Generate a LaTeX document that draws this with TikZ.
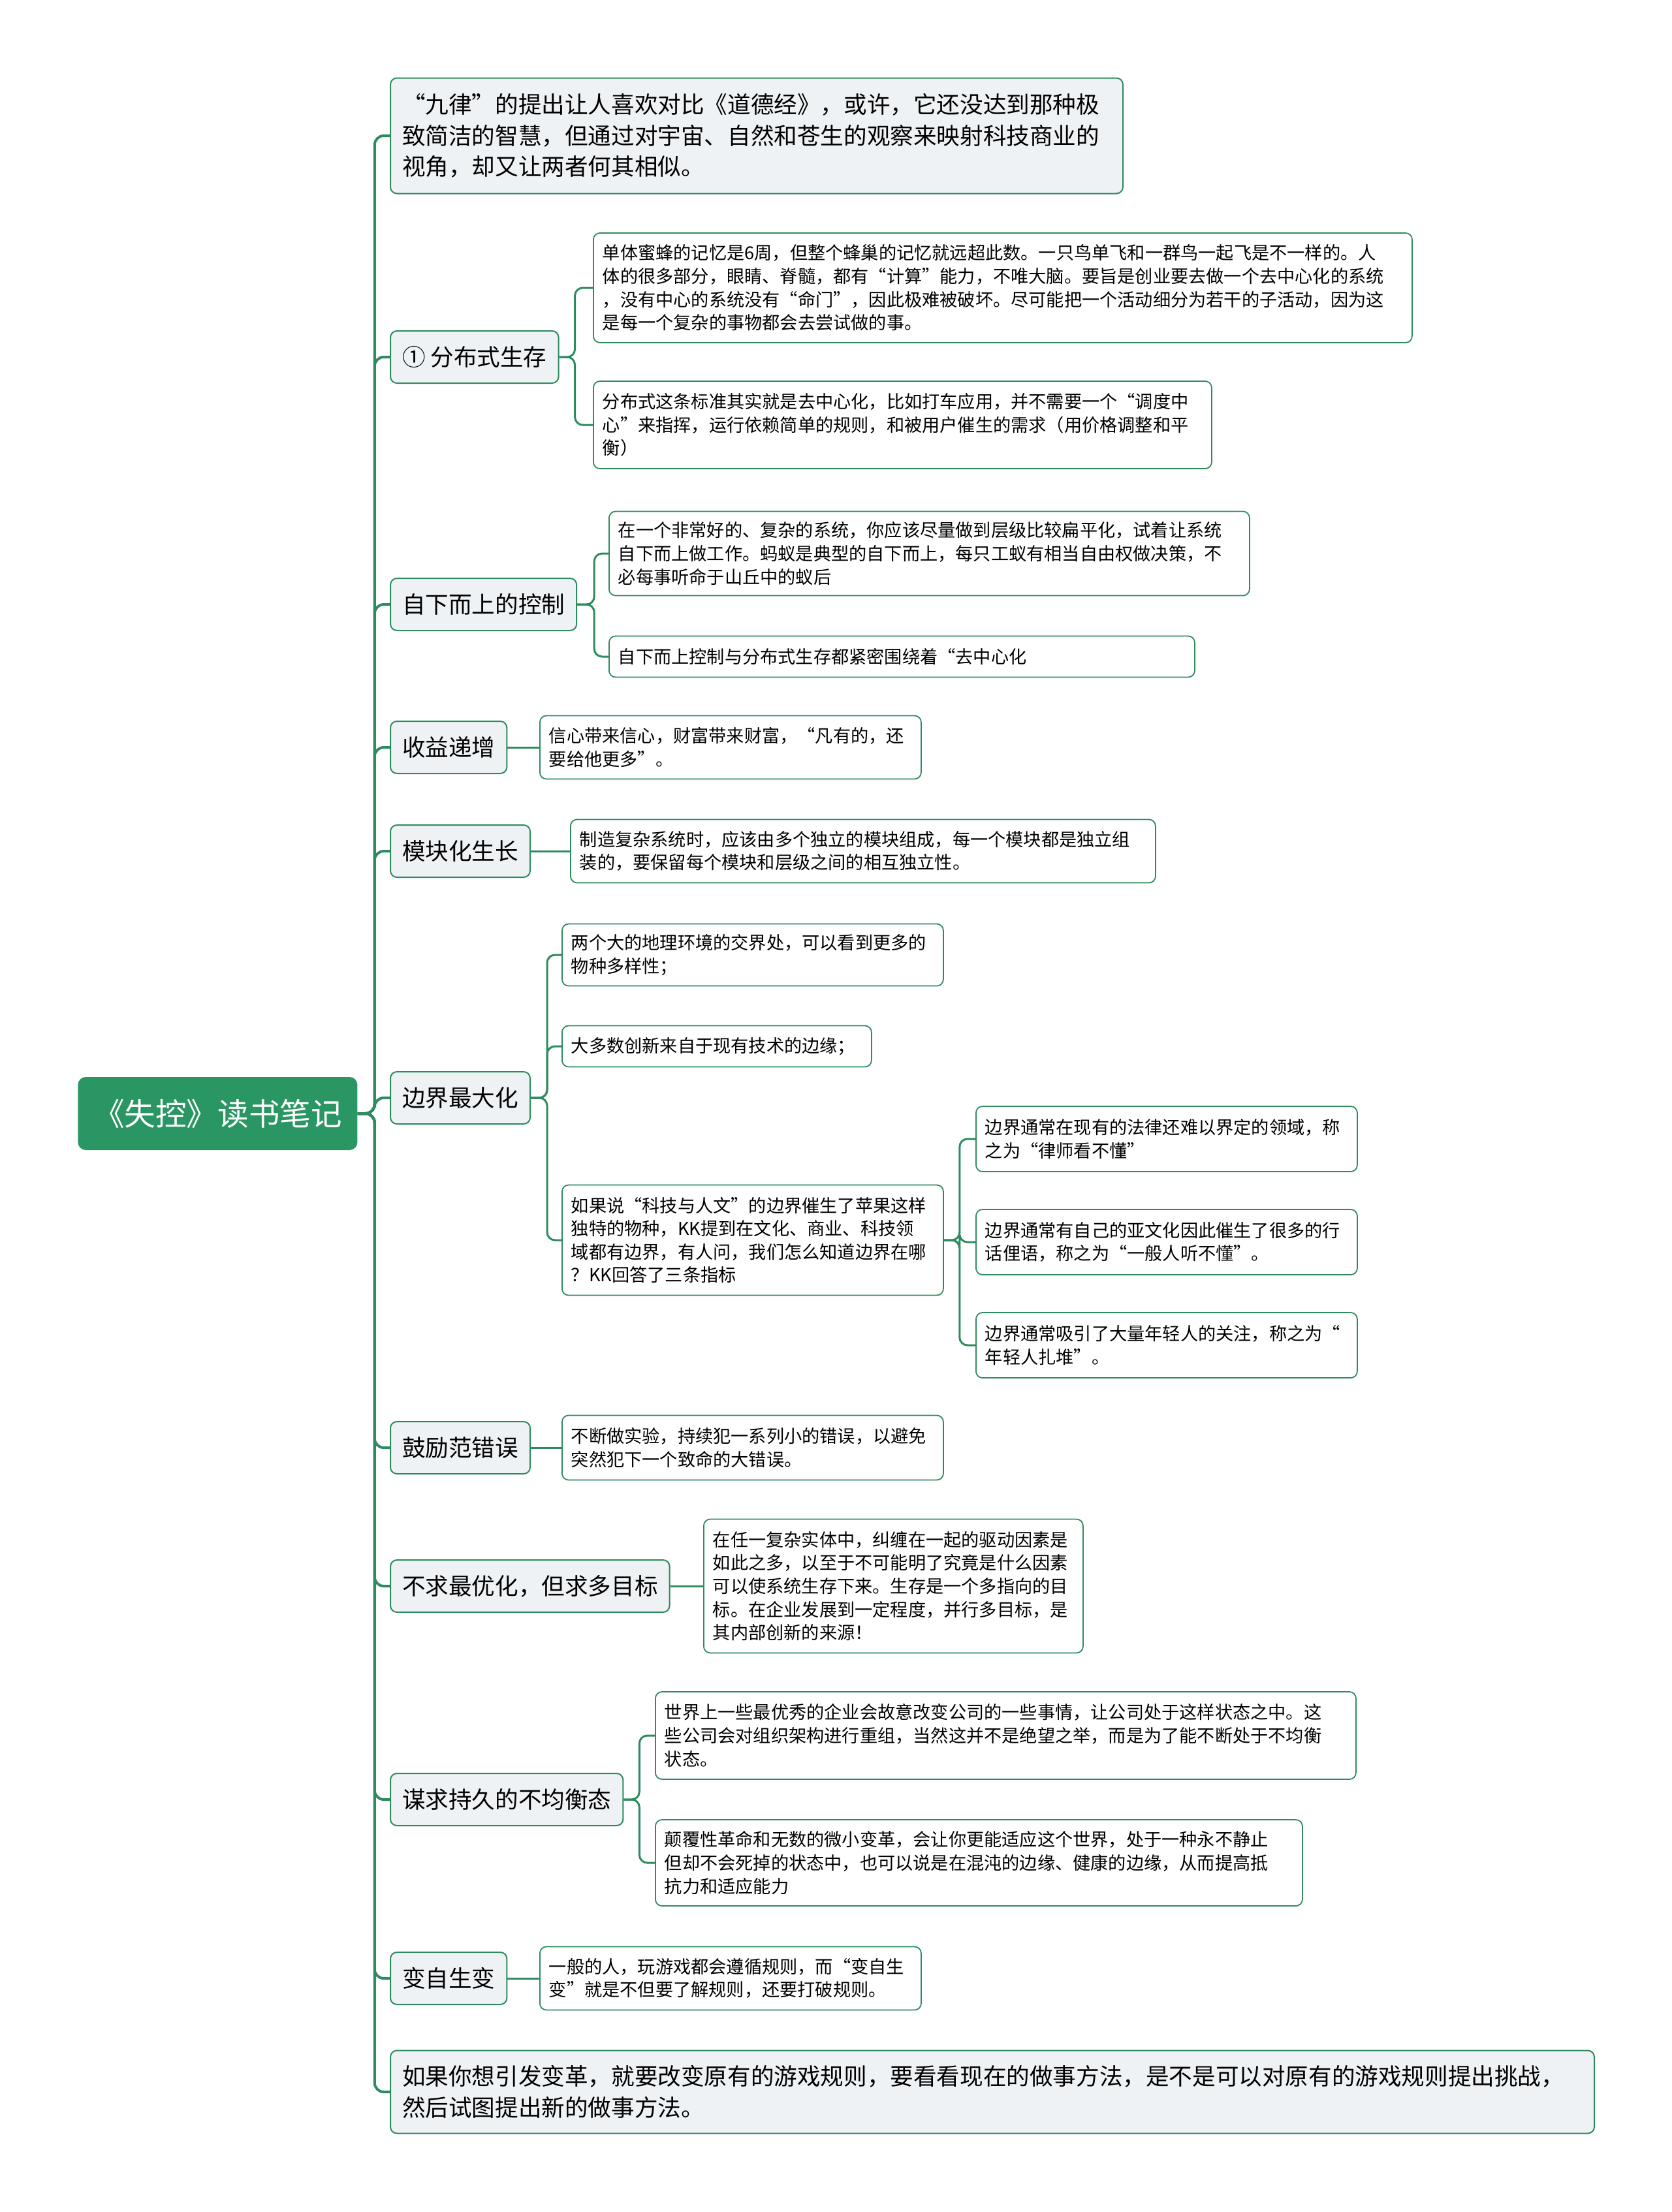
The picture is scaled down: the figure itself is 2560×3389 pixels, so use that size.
\documentclass[tikz,border=0pt]{standalone}
\usepackage{fontspec}
\setmainfont{Noto Sans CJK SC}
\usepackage{xcolor}
\usepackage{tikz}
\usetikzlibrary{positioning}

\definecolor{linegreen}{HTML}{2E8B5E}
\definecolor{rootgreen}{HTML}{2A9663}
\definecolor{topicgray}{HTML}{EEF2F5}

\begin{document}
\begin{tikzpicture}[x=0.5pt,y=-0.5pt,
	rootbox/.style={rectangle,rounded corners=6pt,fill=rootgreen,text=white,
		font=\fontsize{23.8}{28}\selectfont,minimum width=214pt,minimum height=56pt,anchor=west},
	topic/.style={rectangle,rounded corners=5pt,draw=linegreen,line width=1pt,fill=topicgray,
		font=\fontsize{17.8}{23.8}\selectfont,inner xsep=9pt,minimum height=40pt,anchor=west},
	topicnote/.style={topic,align=left},
	note/.style={rectangle,rounded corners=5pt,draw=linegreen,line width=0.9pt,fill=white,
		font=\fontsize{13.6}{17.8}\selectfont,inner xsep=7pt,align=left,anchor=west},
	link/.style={draw=linegreen,line width=2pt,rounded corners=7pt},
	sublink/.style={draw=linegreen,line width=1.5pt,rounded corners=6pt}]

	\useasboundingbox (0,0) rectangle (2560,3389);

	% root and main topics
	\node[rootbox] (root) at (119,1706) {《失控》读书笔记};

	\node[topicnote,text width=543pt,minimum height=88.5pt] (top) at (597,208)
		{“九律”的提出让人喜欢对比《道德经》，或许，它还没达到那种极\\致简洁的智慧，但通过对宇宙、自然和苍生的观察来映射科技商业的\\视角，却又让两者何其相似。};
	\node[topic] (dist) at (597,547) {① 分布式生存};
	\node[topic] (ctrl) at (597,926) {自下而上的控制};
	\node[topic] (gain) at (597,1145) {收益递增};
	\node[topic] (mod) at (597,1304) {模块化生长};
	\node[topic] (edge) at (597,1682) {边界最大化};
	\node[topic] (err) at (597,2218) {鼓励范错误};
	\node[topic] (goal) at (597,2430) {不求最优化，但求多目标};
	\node[topic] (imb) at (597,2757) {谋求持久的不均衡态};
	\node[topic] (chg) at (597,3031) {变自生变};
	\node[topicnote,text width=904pt,minimum height=63.5pt] (last) at (597,3205)
		{如果你想引发变革，就要改变原有的游戏规则，要看看现在的做事方法，是不是可以对原有的游戏规则提出挑战，\\然后试图提出新的做事方法。};

	% notes
	\node[note,text width=613pt,minimum height=84pt] (distA) at (908,441)
		{单体蜜蜂的记忆是6周，但整个蜂巢的记忆就远超此数。一只鸟单飞和一群鸟一起飞是不一样的。人\\体的很多部分，眼睛、脊髓，都有“计算”能力，不唯大脑。要旨是创业要去做一个去中心化的系统\\，没有中心的系统没有“命门”，因此极难被破坏。尽可能把一个活动细分为若干的子活动，因为这\\是每一个复杂的事物都会去尝试做的事。};
	\node[note,text width=459.5pt,minimum height=67pt] (distB) at (908,651)
		{分布式这条标准其实就是去中心化，比如打车应用，并不需要一个“调度中\\心”来指挥，运行依赖简单的规则，和被用户催生的需求（用价格调整和平\\衡）};

	\node[note,text width=476.5pt,minimum height=64.5pt] (ctrlA) at (932,848)
		{在一个非常好的、复杂的系统，你应该尽量做到层级比较扁平化，试着让系统\\自下而上做工作。蚂蚁是典型的自下而上，每只工蚁有相当自由权做决策，不\\必每事听命于山丘中的蚁后};
	\node[note,text width=434.5pt,minimum height=31.5pt] (ctrlB) at (932,1006)
		{自下而上控制与分布式生存都紧密围绕着“去中心化};

	\node[note,text width=278pt,minimum height=48.5pt] (gainA) at (826,1145)
		{信心带来信心，财富带来财富，“凡有的，还\\要给他更多”。};
	\node[note,text width=434pt,minimum height=48.5pt] (modA) at (873,1304)
		{制造复杂系统时，应该由多个独立的模块组成，每一个模块都是独立组\\装的，要保留每个模块和层级之间的相互独立性。};

	\node[note,text width=278pt,minimum height=47.5pt] (edgeA) at (860,1463)
		{两个大的地理环境的交界处，可以看到更多的\\物种多样性；};
	\node[note,text width=223pt,minimum height=31.5pt] (edgeB) at (860,1603)
		{大多数创新来自于现有技术的边缘；};
	\node[note,text width=278pt,minimum height=84.5pt] (edgeC) at (860,1900)
		{如果说“科技与人文”的边界催生了苹果这样\\独特的物种，KK提到在文化、商业、科技领\\域都有边界，有人问，我们怎么知道边界在哪\\？KK回答了三条指标};
	\node[note,text width=278pt,minimum height=50pt] (edgeC1) at (1494,1745)
		{边界通常在现有的法律还难以界定的领域，称\\之为“律师看不懂”};
	\node[note,text width=278pt,minimum height=50pt] (edgeC2) at (1494,1903)
		{边界通常有自己的亚文化因此催生了很多的行\\话俚语，称之为“一般人听不懂”。};
	\node[note,text width=278pt,minimum height=50pt] (edgeC3) at (1494,2061)
		{边界通常吸引了大量年轻人的关注，称之为“\\年轻人扎堆”。};

	\node[note,text width=278pt,minimum height=49.5pt] (errA) at (860,2218)
		{不断做实验，持续犯一系列小的错误，以避免\\突然犯下一个致命的大错误。};
	\node[note,text width=276.5pt,minimum height=102.5pt] (goalA) at (1077,2430)
		{在任一复杂实体中，纠缠在一起的驱动因素是\\如此之多，以至于不可能明了究竟是什么因素\\可以使系统生存下来。生存是一个多指向的目\\标。在企业发展到一定程度，并行多目标，是\\其内部创新的来源！};

	\node[note,text width=522.5pt,minimum height=67pt] (imbA) at (1003,2659)
		{世界上一些最优秀的企业会故意改变公司的一些事情，让公司处于这样状态之中。这\\些公司会对组织架构进行重组，当然这并不是绝望之举，而是为了能不断处于不均衡\\状态。};
	\node[note,text width=481.5pt,minimum height=66pt] (imbB) at (1003,2854)
		{颠覆性革命和无数的微小变革，会让你更能适应这个世界，处于一种永不静止\\但却不会死掉的状态中，也可以说是在混沌的边缘、健康的边缘，从而提高抵\\抗力和适应能力};

	\node[note,text width=278pt,minimum height=48.5pt] (chgA) at (826,3031)
		{一般的人，玩游戏都会遵循规则，而“变自生\\变”就是不但要了解规则，还要打破规则。};

	% spine
	\foreach \t in {top,dist,ctrl,gain,mod,edge,err,goal,imb,chg,last}
		\draw[link] (root.east) -- ++(26,0) |- (\t.west);

	% branches
	\draw[sublink] (dist.east) -- ++(24,0) |- (distA.west);
	\draw[sublink] (dist.east) -- ++(24,0) |- (distB.west);
	\draw[sublink] (ctrl.east) -- ++(26,0) |- (ctrlA.west);
	\draw[sublink] (ctrl.east) -- ++(26,0) |- (ctrlB.west);
	\draw[sublink] (gain) -- (gainA);
	\draw[sublink] (mod) -- (modA);
	\draw[sublink] (edge.east) -- ++(25,0) |- (edgeA.west);
	\draw[sublink] (edge.east) -- ++(25,0) |- (edgeB.west);
	\draw[sublink] (edge.east) -- ++(25,0) |- (edgeC.west);
	\draw[sublink] (edgeC.east) -- ++(24,0) |- (edgeC1.west);
	\draw[sublink] (edgeC.east) -- ++(24,0) |- (edgeC2.west);
	\draw[sublink] (edgeC.east) -- ++(24,0) |- (edgeC3.west);
	\draw[sublink] (err) -- (errA);
	\draw[sublink] (goal) -- (goalA);
	\draw[sublink] (imb.east) -- ++(24,0) |- (imbA.west);
	\draw[sublink] (imb.east) -- ++(24,0) |- (imbB.west);
	\draw[sublink] (chg) -- (chgA);

\end{tikzpicture}
\end{document}
